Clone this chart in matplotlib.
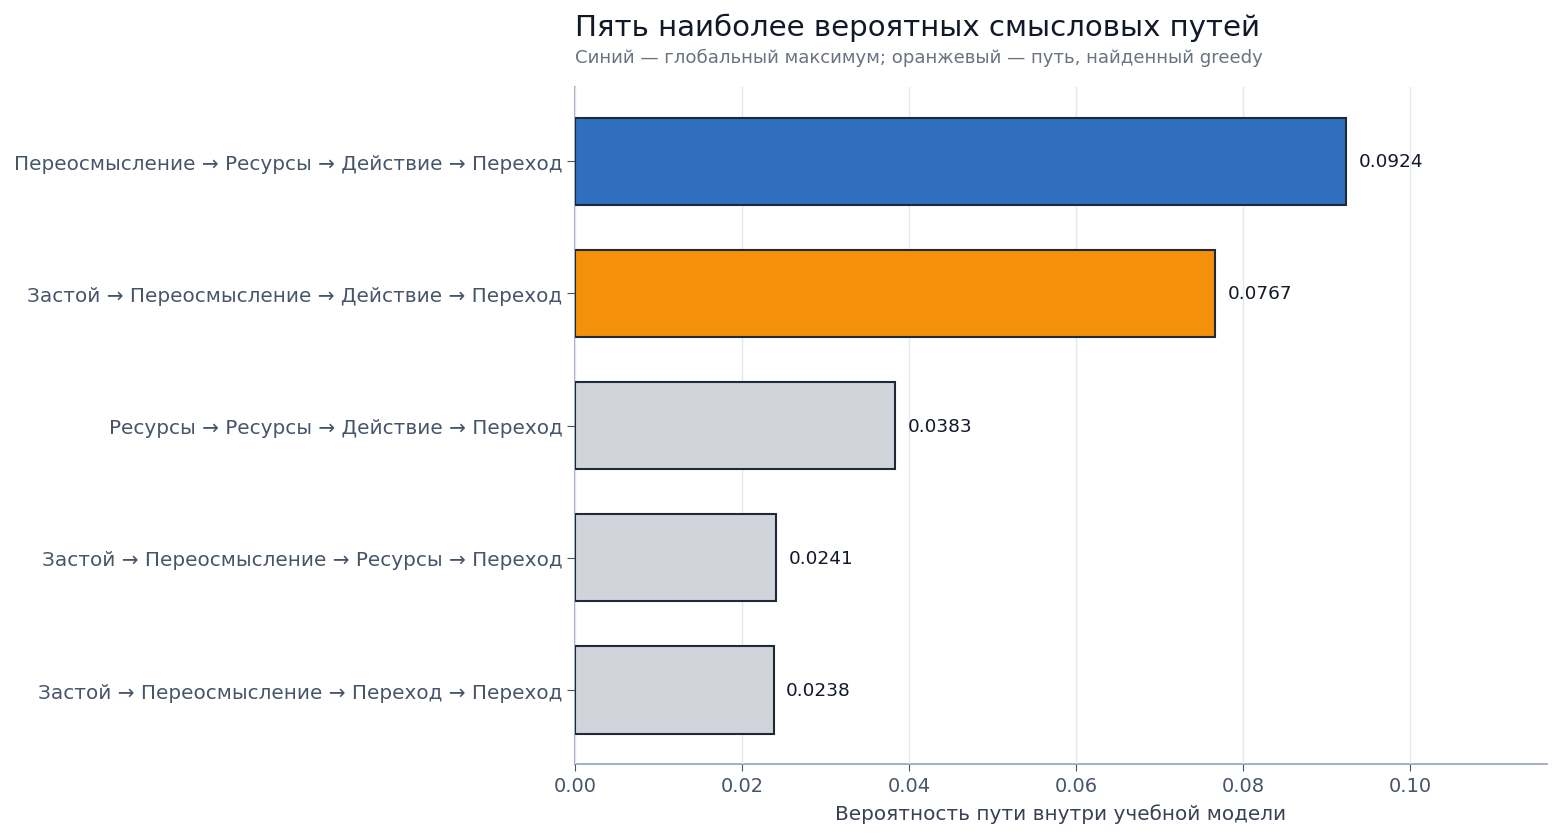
import matplotlib.pyplot as plt

paths = [
    'Переосмысление → Ресурсы → Действие → Переход',
    'Застой → Переосмысление → Действие → Переход',
    'Ресурсы → Ресурсы → Действие → Переход',
    'Застой → Переосмысление → Ресурсы → Переход',
    'Застой → Переосмысление → Переход → Переход',
]
probs = [0.0924, 0.0767, 0.0383, 0.0241, 0.0238]
colors = ['#2f6fbd', '#f5900a', '#d1d5db', '#d1d5db', '#d1d5db']

plt.rcParams['font.family'] = ['DejaVu Sans']

fig = plt.figure(figsize=(15.6, 8.37), dpi=100)
ax = fig.add_axes([0.3686, 0.0855, 0.6231, 0.8095])

y = list(range(len(paths)))
ax.barh(y, probs, height=0.66, color=colors, edgecolor='#1f2937', linewidth=1.5, zorder=3)
ax.invert_yaxis()
ax.set_yticks(y)
ax.set_yticklabels(paths)
ax.set_xlim(0, max(probs) * 1.26)
ax.set_xticks([0, 0.02, 0.04, 0.06, 0.08, 0.10])

for i, p in enumerate(probs):
    ax.text(p + 0.0015, i, f'{p:.4f}', va='center', ha='left', fontsize=13.3, color='#111827', zorder=4)

ax.grid(axis='x', color='#e5e7eb', linewidth=1, zorder=5)
ax.set_axisbelow(False)
for s in ['top', 'right']:
    ax.spines[s].set_visible(False)
for s in ['left', 'bottom']:
    ax.spines[s].set_color('#94a3b8')
    ax.spines[s].set_linewidth(1.2)
ax.tick_params(axis='y', labelsize=14.4, colors='#475569', length=5.5, pad=3.5)
ax.tick_params(axis='x', labelsize=14, colors='#475569', length=5)
ax.tick_params(axis='both', color='#475569')
ax.set_xlabel('Вероятность пути внутри учебной модели', fontsize=14.4, color='#374151', labelpad=6)

fig.text(0.3686, 0.967, 'Пять наиболее вероятных смысловых путей', fontsize=21.1, color='#111827', ha='left', va='center')
fig.text(0.3686, 0.931, 'Синий — глобальный максимум; оранжевый — путь, найденный greedy', fontsize=13.1, color='#6b7280', ha='left', va='center')

fig.savefig('out.png', dpi=100)
